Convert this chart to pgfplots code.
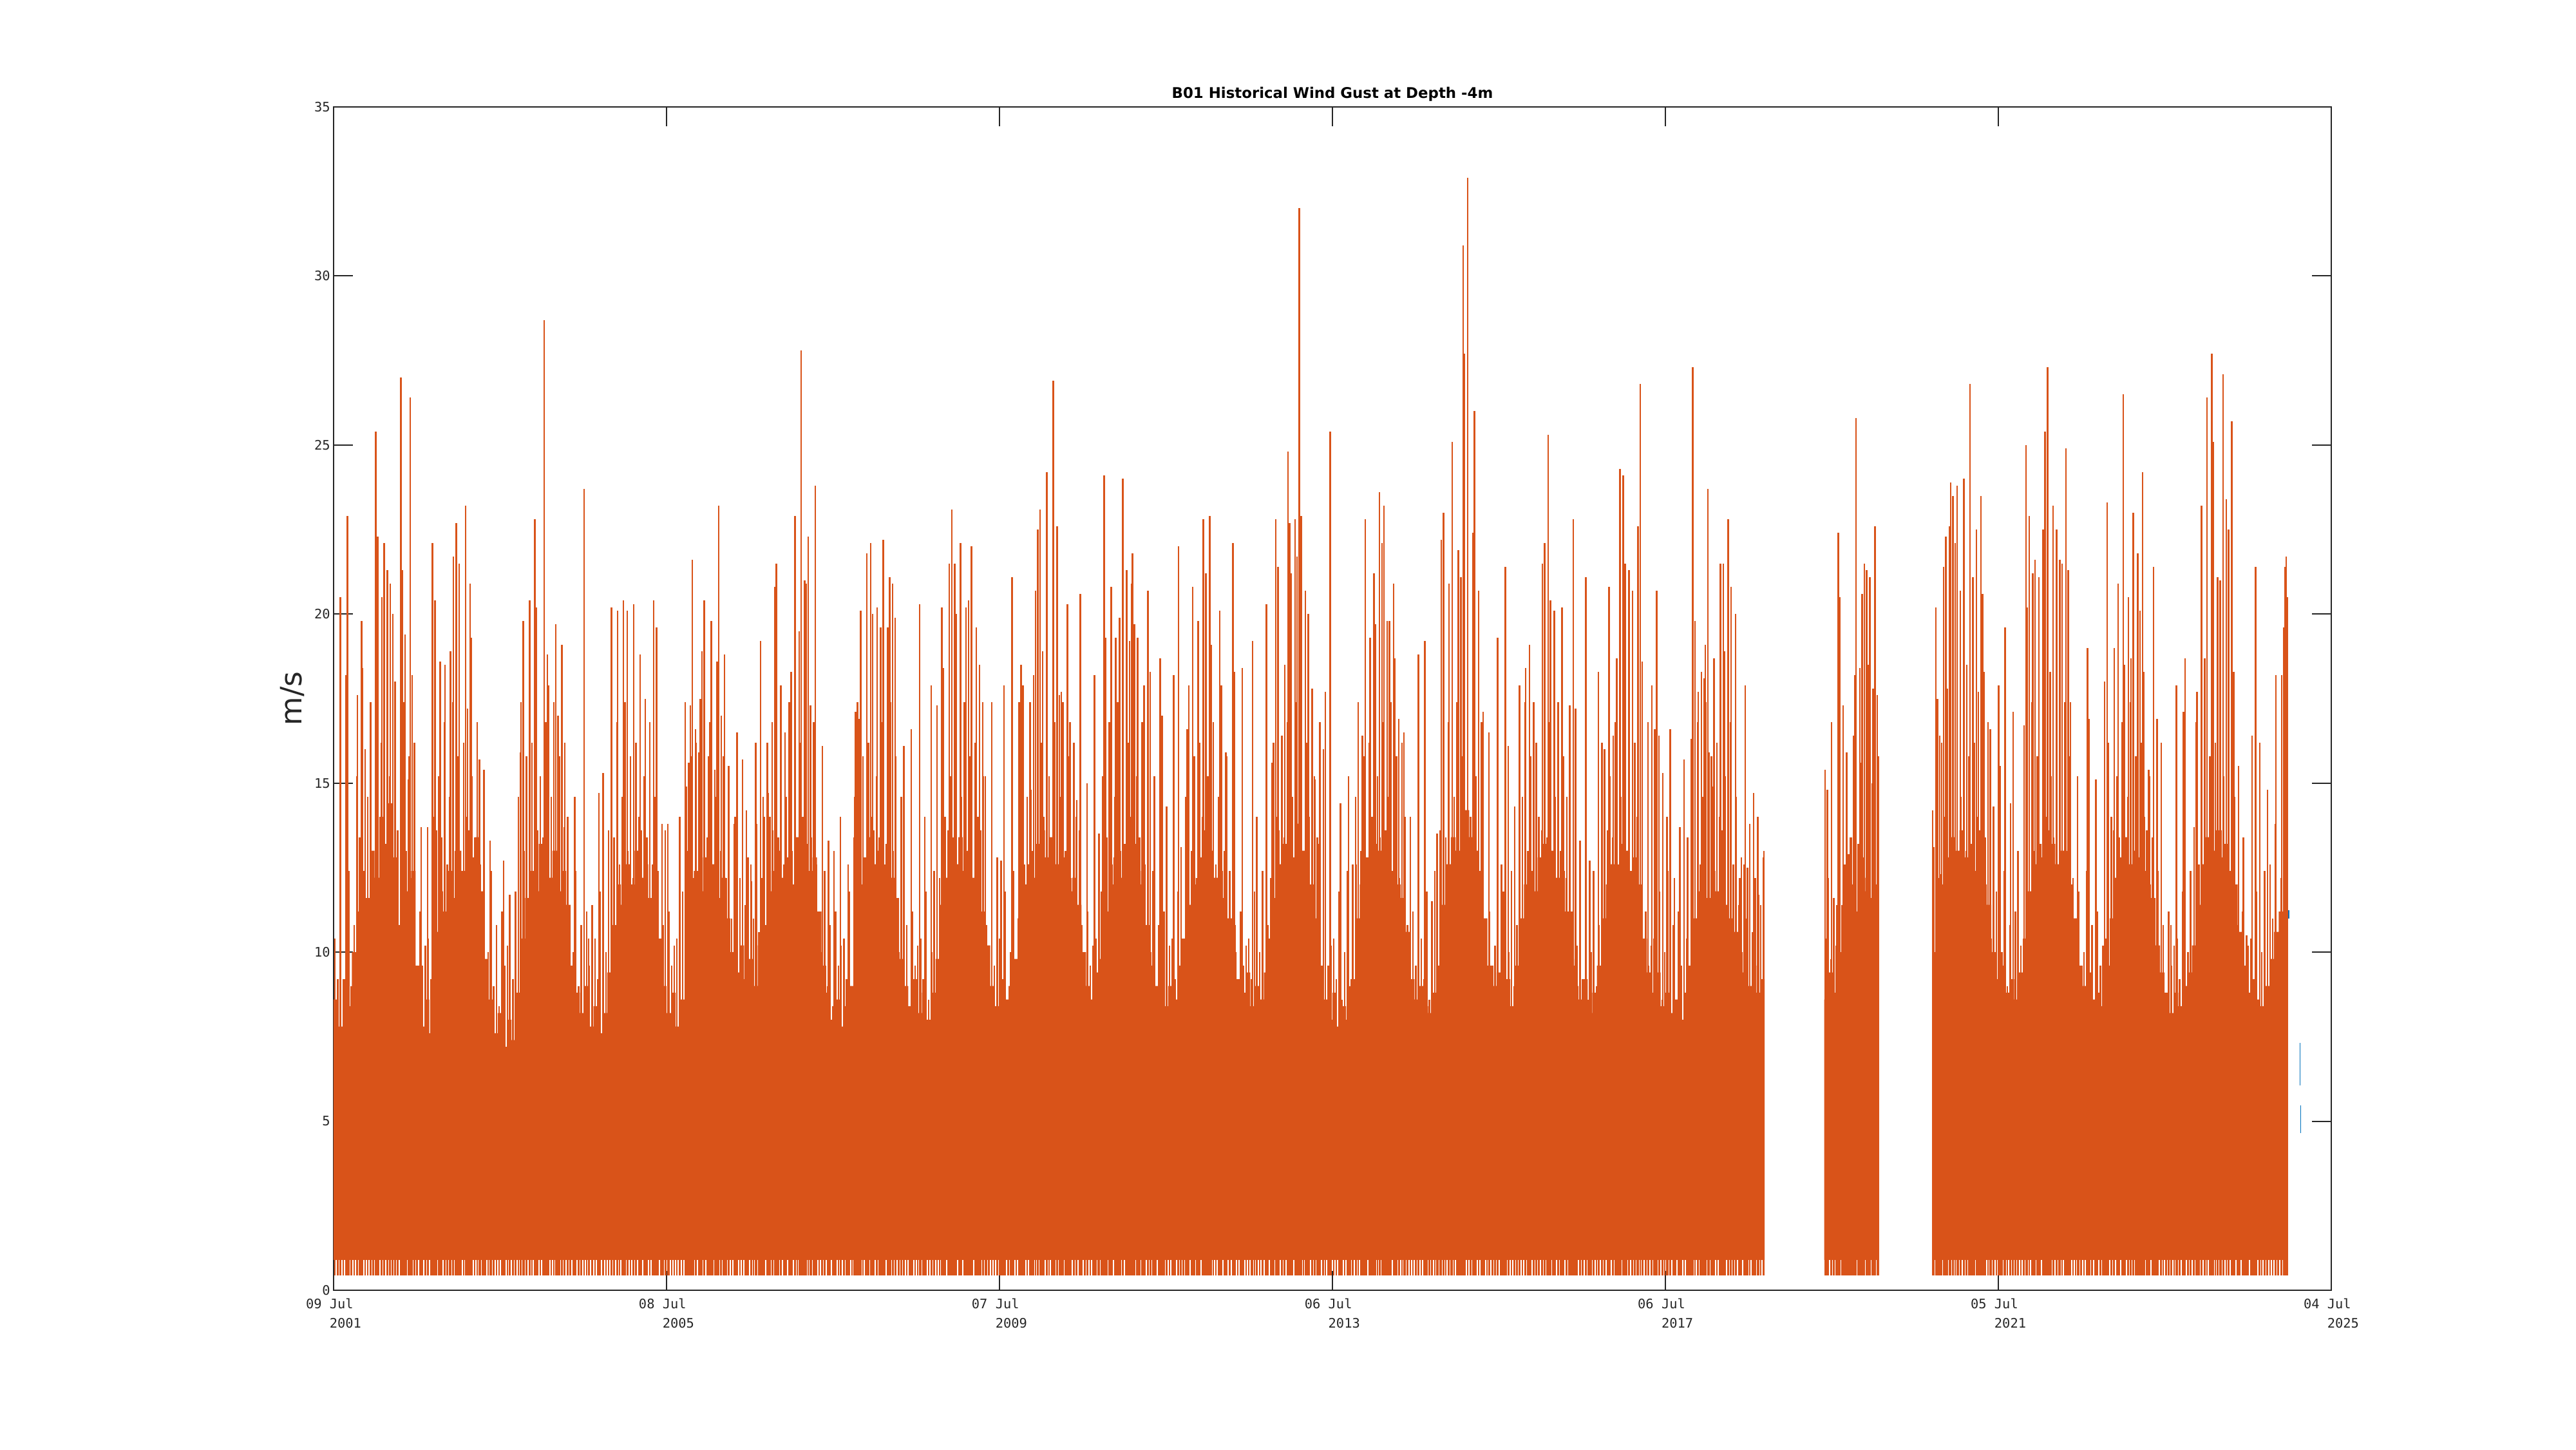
\documentclass[border=0pt]{standalone}
\usepackage{pgfplots}
\usepackage{pgfplotstable}
\pgfplotsset{compat=1.18}
\usepgfplotslibrary{fillbetween}
\usepackage{fontspec}
\setmainfont{DejaVu Sans}
\newfontfamily\monofont{DejaVu Sans Mono}
\definecolor{mlorange}{rgb}{0.85,0.325,0.098}
\definecolor{mlblue}{rgb}{0,0.447,0.741}
\definecolor{axgray}{rgb}{0.15,0.15,0.15}

% dense band (upper edge), days since 09 Jul 2001
\pgfplotstableread{
x y
0 8.6
20 7.8
40 9.2
60 8.4
80 10.0
100 11.2
120 12.4
140 11.6
160 13.0
180 12.2
200 14.0
220 13.2
240 14.4
260 12.8
280 10.8
300 12.6
320 11.8
340 12.4
360 9.6
380 7.8
400 8.6
420 7.6
440 10.6
460 11.8
480 11.2
500 12.4
520 11.6
540 13.0
560 12.4
580 13.6
600 12.8
620 13.4
640 11.8
660 9.8
680 8.6
700 7.6
720 8.2
740 7.2
760 8.0
780 7.4
800 8.8
820 10.4
840 11.6
860 12.4
880 11.8
900 13.2
920 12.6
940 12.2
960 13.0
980 11.8
1000 12.4
1020 11.4
1040 9.6
1060 8.8
1080 8.2
1100 9.0
1120 7.8
1140 8.4
1160 7.6
1180 8.2
1200 9.4
1220 10.8
1240 12.0
1260 11.4
1280 12.6
1300 12.0
1320 13.0
1340 12.2
1360 12.6
1380 11.6
1400 12.2
1420 10.4
1440 9.0
1460 8.2
1480 8.8
1500 7.8
1520 8.6
1540 10.0
1560 11.4
1580 12.4
1600 11.8
1620 12.8
1640 12.0
1660 12.6
1680 11.6
1700 12.2
1720 11.0
1740 10.0
1760 9.4
1780 10.2
1800 9.2
1820 9.8
1840 9.0
1860 10.2
1880 10.8
1900 11.8
1920 12.4
1940 13.0
1960 12.2
1980 12.8
2000 12.0
2020 13.4
2040 12.6
2060 13.2
2080 12.4
2100 12.8
2120 11.2
2140 9.6
2160 8.8
2180 8.0
2200 8.6
2220 7.8
2240 8.4
2260 9.0
2280 10.6
2300 12.0
2320 12.8
2340 13.4
2360 12.6
2380 13.0
2400 12.4
2420 13.2
2440 12.2
2460 11.6
2480 9.8
2500 9.0
2520 8.4
2540 9.2
2560 8.2
2580 8.8
2600 8.0
2620 8.8
2640 9.8
2660 11.4
2680 12.2
2700 13.0
2720 12.6
2740 13.4
2760 12.4
2780 13.0
2800 12.2
2820 12.0
2840 11.2
2860 10.2
2880 9.0
2900 8.4
2920 9.2
2940 8.6
2960 9.0
2980 9.8
3000 11.0
3020 12.0
3040 12.6
3060 12.2
3080 13.2
3100 13.6
3120 12.8
3140 13.4
3160 12.6
3180 12.2
3200 12.8
3220 11.8
3240 12.2
3260 11.4
3280 10.0
3300 9.0
3320 8.6
3340 9.4
3360 9.8
3380 11.2
3400 12.0
3420 12.8
3440 12.2
3460 13.2
3480 12.6
3500 13.2
3520 12.4
3540 12.0
3560 10.8
3580 9.6
3600 9.0
3620 9.4
3640 8.4
3660 9.0
3680 8.6
3700 9.6
3720 10.4
3740 11.4
3760 12.2
3780 12.0
3800 12.8
3820 12.4
3840 13.0
3860 12.2
3880 12.4
3900 11.6
3920 11.0
3940 10.0
3960 9.2
3980 8.8
4000 9.4
4020 8.4
4040 9.0
4060 8.6
4080 9.4
4100 10.4
4120 11.6
4140 12.6
4160 13.2
4180 13.6
4200 12.8
4220 13.8
4240 13.0
4260 12.6
4280 12.0
4300 11.0
4320 9.6
4340 8.6
4360 8.0
4380 8.8
4400 7.8
4420 8.4
4440 8.0
4460 9.2
4480 11.0
4500 12.0
4520 12.8
4540 12.4
4560 13.2
4580 13.0
4600 13.6
4620 12.8
4640 12.4
4660 12.0
4680 11.6
4700 10.6
4720 9.2
4740 8.6
4760 9.0
4780 8.4
4800 8.2
4820 8.8
4840 9.6
4860 11.4
4880 12.6
4900 13.4
4920 13.0
4940 13.8
4960 14.2
4980 13.4
5000 13.0
5020 12.4
5040 11.0
5060 9.6
5080 9.0
5100 9.4
5120 8.6
5140 9.2
5160 8.4
5180 9.6
5200 11.0
5220 12.0
5240 12.4
5260 11.8
5280 12.8
5300 13.2
5320 12.6
5340 13.0
5360 12.2
5380 12.4
5400 11.2
5420 9.8
5440 9.0
5460 8.6
5480 9.2
5500 8.2
5520 8.8
5540 9.6
5560 11.0
5580 12.0
5600 12.6
5620 12.2
5640 13.2
5660 13.0
5680 12.4
5700 12.8
5720 12.0
5740 10.4
5760 9.4
5780 8.8
5800 9.4
5820 8.4
5840 8.8
5860 8.2
5880 8.6
5900 8.0
5920 8.8
5940 9.6
5960 11.0
5980 11.8
6000 12.2
6020 11.6
6040 12.4
6060 11.8
6080 12.2
6100 11.4
6120 11.0
6140 10.6
6160 10.0
6180 9.4
6200 9.0
6220 9.6
6240 8.8
6260 9.2
6276 9.2
}\bandA

\pgfplotstableread{
x y
6537 8.6
6557 9.4
6577 8.8
6597 10.0
6617 9.6
6637 10.4
6657 10.0
6677 11.2
6697 11.8
6717 12.2
6737 11.6
6757 12.0
6777 12.0
}\bandB

\pgfplotstableread{
x y
7010 10.0
7030 11.2
7050 12.0
7070 12.8
7090 13.4
7110 13.0
7130 13.6
7150 12.8
7170 13.2
7190 12.4
7210 12.8
7230 12.0
7250 11.4
7270 10.0
7290 9.2
7310 9.6
7330 8.8
7350 9.2
7370 8.6
7390 9.4
7410 10.4
7430 11.8
7450 12.6
7470 13.2
7490 12.8
7510 13.6
7530 13.2
7550 12.6
7570 13.0
7590 12.4
7610 12.0
7630 11.0
7650 9.6
7670 9.0
7690 9.4
7710 8.6
7730 8.8
7750 8.4
7770 9.6
7790 11.0
7810 12.2
7830 12.8
7850 13.4
7870 12.6
7890 13.0
7910 12.8
7930 12.4
7950 12.0
7970 11.6
7990 10.2
8010 9.4
8030 8.8
8050 8.2
8070 8.8
8090 8.4
8110 9.0
8130 9.4
8150 10.2
8170 11.4
8190 12.6
8210 13.4
8230 13.0
8250 13.6
8270 12.8
8290 13.2
8310 12.4
8330 12.0
8350 10.6
8370 9.4
8390 8.8
8410 9.2
8430 8.6
8450 8.4
8470 9.0
8490 9.8
8510 10.6
8530 11.2
8550 11.8
8570 11.8
}\bandC

% moderate gusts (dense spike texture)
\pgfplotstableread{
x y
6 10.4
18 9.2
30 11.8
42 8.6
54 10.0
66 12.4
78 9.0
90 10.8
102 15.2
114 13.4
126 16.8
138 12.6
150 14.6
162 17.4
174 13.0
186 15.8
198 12.2
210 16.2
222 14.0
234 13.6
246 15.2
258 13.4
270 16.8
282 12.6
294 14.6
306 17.4
318 13.0
330 15.8
342 12.2
354 16.2
366 8.4
378 11.2
390 9.6
402 10.2
414 10.4
426 9.2
438 14.0
450 13.6
462 15.2
474 13.4
486 16.8
498 12.6
510 14.6
522 17.4
534 13.0
546 15.8
558 12.2
570 16.2
582 14.0
594 13.6
606 15.2
618 13.4
630 16.8
642 12.6
654 11.8
666 8.6
678 10.0
690 12.4
702 9.0
714 10.8
726 8.4
738 11.2
750 9.6
762 10.2
774 10.4
786 9.2
798 11.8
810 14.6
822 17.4
834 13.0
846 15.8
858 12.2
870 16.2
882 14.0
894 13.6
906 15.2
918 13.4
930 16.8
942 12.6
954 14.6
966 17.4
978 13.0
990 15.8
1002 12.2
1014 16.2
1026 14.0
1038 8.6
1050 10.0
1062 12.4
1074 9.0
1086 10.8
1098 8.4
1110 11.2
1122 9.6
1134 10.2
1146 10.4
1158 9.2
1170 11.8
1182 8.6
1194 10.0
1206 13.6
1218 15.2
1230 13.4
1242 16.8
1254 12.6
1266 14.6
1278 17.4
1290 13.0
1302 15.8
1314 12.2
1326 16.2
1338 14.0
1350 13.6
1362 15.2
1374 13.4
1386 16.8
1398 12.6
1410 14.6
1422 12.4
1434 9.0
1446 10.8
1458 8.4
1470 11.2
1482 9.6
1494 10.2
1506 10.4
1518 9.2
1530 11.8
1542 17.4
1554 13.0
1566 15.8
1578 12.2
1590 16.2
1602 14.0
1614 13.6
1626 15.2
1638 13.4
1650 16.8
1662 12.6
1674 14.6
1686 17.4
1698 13.0
1710 15.8
1722 12.2
1734 12.6
1746 11.0
1758 13.8
1770 10.6
1782 12.2
1794 14.0
1806 11.4
1818 12.8
1830 12.6
1842 11.0
1854 13.8
1866 10.6
1878 12.2
1890 14.0
1902 16.2
1914 14.0
1926 13.6
1938 15.2
1950 13.4
1962 16.8
1974 12.6
1986 14.6
1998 17.4
2010 13.0
2022 15.8
2034 12.2
2046 16.2
2058 14.0
2070 13.6
2082 15.2
2094 13.4
2106 16.8
2118 12.6
2130 8.6
2142 10.0
2154 12.4
2166 9.0
2178 10.8
2190 8.4
2202 11.2
2214 9.6
2226 10.2
2238 10.4
2250 9.2
2262 11.8
2274 8.6
2286 14.6
2298 17.4
2310 13.0
2322 15.8
2334 12.2
2346 16.2
2358 14.0
2370 13.6
2382 15.2
2394 13.4
2406 16.8
2418 12.6
2430 14.6
2442 17.4
2454 13.0
2466 15.8
2478 10.0
2490 12.4
2502 9.0
2514 10.8
2526 8.4
2538 11.2
2550 9.6
2562 10.2
2574 10.4
2586 9.2
2598 11.8
2610 8.6
2622 10.0
2634 12.4
2646 9.0
2658 12.2
2670 16.2
2682 14.0
2694 13.6
2706 15.2
2718 13.4
2730 16.8
2742 12.6
2754 14.6
2766 17.4
2778 13.0
2790 15.8
2802 12.2
2814 16.2
2826 14.0
2838 13.6
2850 15.2
2862 10.8
2874 8.4
2886 11.2
2898 9.6
2910 10.2
2922 10.4
2934 9.2
2946 11.8
2958 8.6
2970 10.0
2982 12.4
2994 9.0
3006 13.4
3018 16.8
3030 12.6
3042 14.6
3054 17.4
3066 13.0
3078 15.8
3090 12.2
3102 16.2
3114 14.0
3126 13.6
3138 15.2
3150 13.4
3162 16.8
3174 12.6
3186 14.6
3198 17.4
3210 13.0
3222 15.8
3234 12.2
3246 16.2
3258 14.0
3270 13.6
3282 10.8
3294 8.4
3306 11.2
3318 9.6
3330 10.2
3342 10.4
3354 9.2
3366 11.8
3378 15.2
3390 13.4
3402 16.8
3414 12.6
3426 14.6
3438 17.4
3450 13.0
3462 15.8
3474 12.2
3486 16.2
3498 14.0
3510 13.6
3522 15.2
3534 13.4
3546 16.8
3558 12.6
3570 8.6
3582 10.0
3594 12.4
3606 9.0
3618 10.8
3630 8.4
3642 11.2
3654 9.6
3666 10.2
3678 10.4
3690 9.2
3702 11.8
3714 8.6
3726 10.0
3738 14.6
3750 17.4
3762 13.0
3774 15.8
3786 12.2
3798 16.2
3810 14.0
3822 13.6
3834 15.2
3846 13.4
3858 16.8
3870 12.6
3882 14.6
3894 17.4
3906 13.0
3918 15.8
3930 12.4
3942 9.0
3954 10.8
3966 8.4
3978 11.2
3990 9.6
4002 10.2
4014 10.4
4026 9.2
4038 11.8
4050 8.6
4062 10.0
4074 12.4
4086 9.0
4098 10.8
4110 12.2
4122 16.2
4134 14.0
4146 13.6
4158 15.2
4170 13.4
4182 16.8
4194 12.6
4206 14.6
4218 17.4
4230 13.0
4242 15.8
4254 12.2
4266 16.2
4278 14.0
4290 13.6
4302 15.2
4314 13.4
4326 16.8
4338 8.4
4350 11.2
4362 9.6
4374 10.2
4386 10.4
4398 9.2
4410 11.8
4422 8.6
4434 10.0
4446 12.4
4458 9.0
4470 12.6
4482 14.6
4494 17.4
4506 13.0
4518 15.8
4530 12.2
4542 16.2
4554 14.0
4566 13.6
4578 15.2
4590 13.4
4602 16.8
4614 12.6
4626 14.6
4638 17.4
4650 13.0
4662 15.8
4674 12.2
4686 16.2
4698 14.0
4710 10.8
4722 8.4
4734 11.2
4746 9.6
4758 10.2
4770 10.4
4782 9.2
4794 11.8
4806 8.6
4818 10.0
4830 12.4
4842 9.0
4854 13.6
4866 15.2
4878 13.4
4890 16.8
4902 12.6
4914 14.6
4926 17.4
4938 13.0
4950 15.8
4962 12.2
4974 16.2
4986 14.0
4998 13.6
5010 15.2
5022 13.4
5034 16.8
5046 10.8
5058 8.4
5070 11.2
5082 9.6
5094 10.2
5106 10.4
5118 9.2
5130 11.8
5142 8.6
5154 10.0
5166 12.4
5178 9.0
5190 10.8
5202 12.6
5214 14.6
5226 17.4
5238 13.0
5250 15.8
5262 12.2
5274 16.2
5286 14.0
5298 13.6
5310 15.2
5322 13.4
5334 16.8
5346 12.6
5358 14.6
5370 17.4
5382 13.0
5394 15.8
5406 12.2
5418 8.4
5430 11.2
5442 9.6
5454 10.2
5466 10.4
5478 9.2
5490 11.8
5502 8.6
5514 10.0
5526 12.4
5538 9.0
5550 10.8
5562 16.2
5574 14.0
5586 13.6
5598 15.2
5610 13.4
5622 16.8
5634 12.6
5646 14.6
5658 17.4
5670 13.0
5682 15.8
5694 12.2
5706 16.2
5718 14.0
5730 13.6
5742 8.4
5754 11.2
5766 9.6
5778 10.2
5790 10.4
5802 9.2
5814 11.8
5826 8.6
5838 10.0
5850 12.4
5862 9.0
5874 10.8
5886 8.4
5898 11.2
5910 9.6
5922 10.2
5934 10.4
5946 9.2
5958 15.2
5970 13.4
5982 16.8
5994 12.6
6006 14.6
6018 17.4
6030 13.0
6042 15.8
6054 12.2
6066 16.2
6078 14.0
6090 13.6
6102 15.2
6114 13.4
6126 16.8
6138 12.6
6150 14.6
6162 11.4
6174 12.8
6186 12.6
6198 11.0
6210 13.8
6222 10.6
6234 12.2
6246 14.0
6258 11.4
6270 12.8
6543 10.4
6555 12.2
6567 9.8
6579 11.6
6591 10.2
6603 13.0
6615 11.4
6627 12.6
6639 10.8
6651 13.4
6663 12.0
6675 14.6
6687 13.2
6699 15.6
6711 12.8
6723 16.0
6735 13.6
6747 15.0
6759 14.2
6771 13.0
7016 13.0
7028 15.8
7040 12.2
7052 16.2
7064 14.0
7076 13.6
7088 15.2
7100 13.4
7112 16.8
7124 12.6
7136 14.6
7148 17.4
7160 13.0
7172 15.8
7184 12.2
7196 16.2
7208 14.0
7220 13.6
7232 15.2
7244 13.4
7256 16.8
7268 10.4
7280 9.2
7292 11.8
7304 8.6
7316 10.0
7328 12.4
7340 9.0
7352 10.8
7364 8.4
7376 11.2
7388 9.6
7400 10.2
7412 10.4
7424 12.6
7436 14.6
7448 17.4
7460 13.0
7472 15.8
7484 12.2
7496 16.2
7508 14.0
7520 13.6
7532 15.2
7544 13.4
7556 16.8
7568 12.6
7580 14.6
7592 17.4
7604 13.0
7616 15.8
7628 12.2
7640 9.2
7652 11.8
7664 8.6
7676 10.0
7688 12.4
7700 9.0
7712 10.8
7724 8.4
7736 11.2
7748 9.6
7760 10.2
7772 10.4
7784 16.2
7796 14.0
7808 13.6
7820 15.2
7832 13.4
7844 16.8
7856 12.6
7868 14.6
7880 17.4
7892 13.0
7904 15.8
7916 12.2
7928 16.2
7940 14.0
7952 13.6
7964 15.2
7976 13.4
7988 10.0
8000 12.4
8012 9.0
8024 10.8
8036 8.4
8048 11.2
8060 9.6
8072 10.2
8084 10.4
8096 9.2
8108 11.8
8120 8.6
8132 10.0
8144 12.4
8156 9.0
8168 16.8
8180 12.6
8192 14.6
8204 17.4
8216 13.0
8228 15.8
8240 12.2
8252 16.2
8264 14.0
8276 13.6
8288 15.2
8300 13.4
8312 16.8
8324 12.6
8336 14.6
8348 10.8
8360 8.4
8372 11.2
8384 9.6
8396 10.2
8408 10.4
8420 9.2
8432 11.8
8444 8.6
8456 10.0
8468 12.4
8480 9.0
8492 12.6
8504 11.0
8516 13.8
8528 10.6
8540 12.2
8552 14.0
8564 11.4
}\mids

% gust peaks
\pgfplotstableread{
x y
30 20.5
54 18.2
61 22.9
104 17.6
123 19.8
127 18.4
138 16.0
185 25.4
193 22.3
212 20.5
222 22.1
236 21.3
249 20.9
260 20.0
270 18.0
281 13.6
295 27.0
302 21.3
313 19.4
329 15.1
336 26.4
345 18.2
354 15.5
384 13.7
412 13.7
434 22.1
445 20.4
468 18.6
489 18.5
513 18.9
526 21.7
538 22.7
550 21.5
579 23.2
587 17.2
598 20.9
605 19.3
640 15.7
659 15.4
687 13.3
746 12.7
772 11.7
810 14.5
821 15.9
832 19.8
860 20.4
883 22.8
888 20.2
923 28.7
937 18.8
944 17.9
975 19.7
984 17.0
1001 19.1
1013 13.7
1058 14.6
1099 23.7
1118 10.4
1134 11.4
1164 14.7
1182 15.3
1219 20.2
1245 20.1
1271 20.4
1288 20.1
1316 20.3
1344 18.8
1367 17.5
1403 20.4
1416 19.6
1440 13.8
1454 13.6
1466 13.8
1518 14.0
1548 14.9
1558 15.6
1565 17.3
1573 21.6
1587 16.6
1601 15.9
1608 17.5
1615 18.9
1625 20.4
1644 15.8
1657 19.8
1672 15.4
1682 18.6
1689 23.2
1700 17.0
1714 18.8
1733 15.5
1761 14.0
1770 16.5
1794 15.7
1811 14.2
1833 12.1
1851 16.2
1872 19.2
1884 14.6
1907 14.7
1924 16.8
1934 20.8
1942 21.5
1961 17.9
1980 16.5
2006 18.3
2023 22.9
2042 19.5
2050 27.8
2066 21.0
2072 20.9
2081 22.3
2092 17.3
2112 23.8
2143 16.1
2171 13.3
2194 13.0
2223 14.0
2256 12.6
2283 13.4
2289 17.1
2305 16.9
2312 20.1
2338 21.8
2356 22.1
2364 20.0
2383 20.2
2399 19.6
2411 22.2
2430 19.6
2439 21.1
2451 20.9
2462 19.9
2489 14.6
2501 16.1
2533 16.6
2570 20.3
2593 14.0
2621 17.9
2646 17.3
2668 20.2
2674 18.4
2700 21.5
2712 23.1
2724 21.5
2731 20.0
2750 22.1
2773 20.2
2785 20.4
2797 22.0
2818 19.6
2832 18.5
2847 17.4
2858 15.2
2886 17.4
2910 12.8
2928 12.7
2940 17.9
2975 21.1
3006 17.4
3015 18.5
3024 17.9
3058 14.8
3070 18.2
3079 20.7
3088 22.5
3098 23.1
3110 18.9
3128 24.2
3156 26.9
3173 22.6
3183 17.6
3191 17.7
3218 20.3
3230 16.8
3259 14.5
3275 20.6
3305 15.0
3337 18.2
3357 13.5
3372 15.2
3379 24.1
3387 19.3
3410 20.8
3430 19.3
3447 19.9
3461 24.0
3478 21.3
3491 19.2
3500 20.9
3504 21.8
3512 19.7
3526 19.3
3554 17.9
3571 20.7
3581 18.3
3600 15.2
3625 18.7
3634 17.0
3653 14.3
3684 18.2
3705 22.0
3716 13.1
3743 16.6
3751 17.9
3767 20.8
3792 19.8
3814 22.8
3826 21.2
3842 22.9
3848 19.1
3886 20.1
3893 17.9
3913 15.9
3944 22.1
3950 18.3
3985 18.4
4030 19.2
4049 14.0
4091 20.3
4115 15.6
4132 22.8
4142 21.4
4159 16.4
4172 18.5
4186 24.8
4192 22.7
4198 21.2
4216 22.8
4225 21.7
4235 32.0
4244 22.9
4262 20.7
4275 20.0
4291 17.8
4304 15.1
4323 13.2
4341 16.0
4350 17.7
4371 25.4
4416 14.4
4451 15.2
4485 12.6
4512 16.4
4525 22.8
4545 19.3
4562 21.2
4570 19.7
4587 23.6
4598 22.1
4607 23.2
4621 19.8
4630 19.8
4648 20.9
4654 18.7
4671 16.9
4694 16.5
4722 14.0
4758 18.8
4786 19.2
4817 11.5
4840 13.5
4857 22.2
4868 23.0
4892 20.9
4906 25.1
4932 21.9
4944 21.1
4953 30.9
4960 27.7
4973 32.9
4996 22.4
5003 26.0
5021 20.7
5042 17.1
5066 16.5
5105 19.3
5122 12.6
5139 21.4
5151 16.1
5179 14.3
5201 17.9
5227 18.4
5244 19.1
5263 17.4
5301 21.5
5311 22.1
5326 25.3
5336 20.4
5353 20.1
5387 20.2
5408 14.6
5421 17.3
5437 22.8
5447 17.2
5467 13.3
5492 21.1
5509 12.7
5547 18.3
5574 16.0
5593 20.8
5612 16.4
5627 18.7
5642 24.3
5655 24.1
5664 21.5
5681 21.3
5697 20.7
5720 22.6
5730 26.8
5739 18.6
5765 16.8
5781 17.9
5794 16.6
5803 20.7
5812 16.4
5830 15.3
5847 14.0
5862 16.6
5880 12.2
5904 13.7
5922 15.7
5938 13.4
5955 16.3
5960 27.3
5971 19.8
5985 17.7
5998 18.3
6010 18.1
6016 19.1
6027 23.7
6031 15.9
6048 14.9
6054 18.7
6082 21.5
6094 21.5
6099 18.9
6116 22.8
6128 20.8
6148 20.0
6167 12.2
6191 17.9
6201 12.5
6228 14.7
6250 11.7
6272 13.0
6541 15.4
6551 14.8
6569 16.8
6592 11.4
6599 22.4
6605 20.5
6620 17.3
6636 15.9
6644 12.9
6655 13.4
6666 16.4
6672 18.2
6676 25.8
6694 18.4
6704 20.6
6713 21.5
6723 21.3
6729 18.5
6737 21.1
6752 17.8
6760 22.6
6769 17.6
6776 15.8
7012 14.2
7019 13.1
7026 20.2
7034 17.5
7043 16.4
7050 12.3
7060 21.4
7071 22.3
7076 17.8
7086 22.6
7092 23.9
7102 23.5
7111 22.1
7120 23.8
7134 20.7
7149 24.0
7162 18.5
7177 26.8
7189 21.1
7205 22.5
7213 17.7
7225 23.5
7231 20.6
7239 18.3
7266 16.6
7280 14.3
7302 17.9
7308 15.5
7331 19.6
7355 14.4
7365 17.1
7387 13.0
7414 16.7
7422 25.0
7426 20.2
7437 22.9
7452 21.2
7462 21.6
7478 21.1
7497 22.5
7505 25.4
7517 27.3
7528 18.3
7541 23.2
7556 22.5
7571 21.6
7580 21.5
7597 24.9
7607 21.3
7617 17.4
7648 15.2
7692 19.0
7697 16.9
7728 15.1
7767 18.0
7778 23.3
7797 13.1
7809 19.0
7826 20.9
7848 26.5
7853 18.5
7871 20.5
7883 18.7
7892 23.0
7912 21.8
7922 20.1
7933 24.2
7938 18.3
7960 15.4
7981 21.4
7997 16.9
8016 16.2
8057 10.8
8081 17.9
8113 17.1
8119 18.7
8160 13.7
8172 17.7
8192 23.2
8206 18.7
8216 26.4
8237 27.7
8244 25.1
8262 21.1
8274 21.0
8287 27.1
8301 23.4
8311 22.5
8324 25.7
8333 18.3
8354 15.5
8375 13.4
8390 10.5
8413 16.4
8429 21.4
8448 16.2
8482 14.8
8518 18.2
8543 18.2
8552 19.6
8558 21.4
8563 21.7
8567 20.5
}\peaks

\begin{document}
\begin{tikzpicture}
\path (-5.18cm,-2.47cm) rectangle (34.82cm,20.03cm);
\begin{axis}[
  at={(0,0)}, anchor=south west,
  scale only axis, width=31.02cm, height=18.37cm,
  xmin=0, xmax=8761, ymin=0, ymax=35,
  axis line style={axgray, line width=0.6pt},
  every tick/.style={axgray, line width=0.6pt},
  tick align=inside,
  major tick length=0.3cm,
  xtick={0,1460,2920,4380,5841,7301,8761},
  xticklabels={{09 Jul\\\phantom{000}2001},{08 Jul\\\phantom{000}2005},{07 Jul\\\phantom{000}2009},{06 Jul\\\phantom{000}2013},{06 Jul\\\phantom{000}2017},{05 Jul\\\phantom{000}2021},{04 Jul\\\phantom{000}2025}},
  xticklabel style={align=left, font=\monofont\fontsize{5.8}{8.8}\selectfont, text=axgray},
  ytick={0,5,10,15,20,25,30,35},
  yticklabels={0,5,10,15,20,25,30,35},
  yticklabel style={font=\monofont\fontsize{5.8}{7}\selectfont, text=axgray, xshift=0.07cm},
  ylabel={m/s},
  ylabel style={at={(axis description cs:-0.0206,0.5)}, anchor=center, font=\fontsize{13}{15}\selectfont, text=axgray},
  title={B01 Historical Wind Gust at Depth -4m},
  title style={at={(axis description cs:0.5,1)}, anchor=south, font=\bfseries\fontsize{6.5}{7.5}\selectfont, yshift=-0.25cm},
  clip=true,
]
\addplot[draw=none, const plot, name path=UA, forget plot] table {\bandA};
\addplot[draw=none, name path=LA, forget plot] coordinates {(0,0.9) (6276,0.9)};
\addplot[mlorange, draw=none, forget plot] fill between[of=UA and LA];
\addplot[draw=none, const plot, name path=UB, forget plot] table {\bandB};
\addplot[draw=none, name path=LB, forget plot] coordinates {(6537,0.9) (6777,0.9)};
\addplot[mlorange, draw=none, forget plot] fill between[of=UB and LB];
\addplot[draw=none, const plot, name path=UC, forget plot] table {\bandC};
\addplot[draw=none, name path=LC, forget plot] coordinates {(7010,0.9) (8570,0.9)};
\addplot[mlorange, draw=none, forget plot] fill between[of=UC and LC];
\begin{scope}
\clip (axis cs:0,0.45) rectangle (axis cs:8761,35);
\addplot[mlorange, line width=0.7pt, ycomb, mark=none] table {\mids};
\addplot[mlorange, line width=0.7pt, ycomb, mark=none] table {\peaks};
\end{scope}
\addplot[mlblue, line width=0.5pt, mark=none] coordinates {(8574,11.0) (8574,11.25)};
\addplot[mlblue, line width=0.5pt, mark=none] coordinates {(8624,6.06) (8624,7.32)};
\addplot[mlblue, line width=0.5pt, mark=none] coordinates {(8627,4.65) (8627,5.47)};
\end{axis}
\end{tikzpicture}
\end{document}
